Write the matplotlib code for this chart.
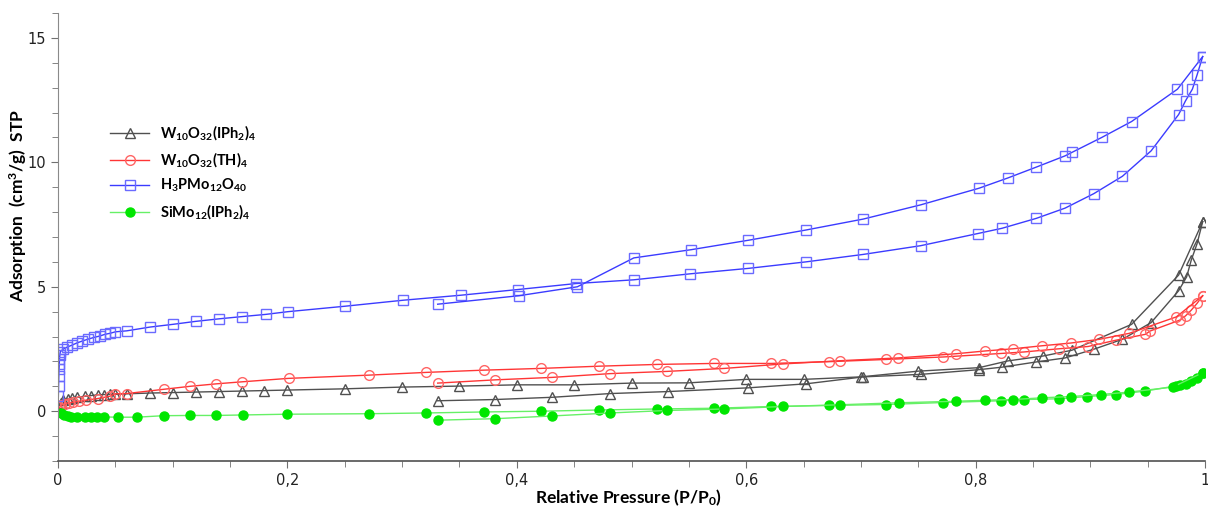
import matplotlib
matplotlib.use("Agg")
import matplotlib.pyplot as plt
from matplotlib.ticker import MultipleLocator, FuncFormatter

# ---------------- data ----------------
labels = [r"W$_{10}$O$_{32}$(IPh$_{2}$)$_{4}$",
          r"W$_{10}$O$_{32}$(TH)$_{4}$",
          r"H$_{3}$PMo$_{12}$O$_{40}$",
          r"SiMo$_{12}$(IPh$_{2}$)$_{4}$"]

# W10O32(IPh2)4
w_ipH_p_ads = [0.001, 0.0025, 0.0046, 0.0084, 0.0125, 0.017, 0.0235, 0.029, 0.035, 0.040, 0.045, 0.050,
               0.060, 0.080, 0.100, 0.120, 0.140, 0.160, 0.180, 0.200, 0.250, 0.300, 0.350, 0.400, 0.450,
               0.500, 0.550, 0.600, 0.650, 0.700, 0.750, 0.803, 0.828, 0.859, 0.884, 0.936, 0.977, 0.998]
w_ipH_v_ads = [0.15, 0.33, 0.44, 0.50, 0.54, 0.56, 0.60, 0.63, 0.66, 0.67, 0.68, 0.68,
               0.70, 0.73, 0.75, 0.77, 0.79, 0.81, 0.83, 0.85, 0.90, 0.97, 1.01, 1.06, 1.06,
               1.13, 1.14, 1.28, 1.28, 1.38, 1.61, 1.75, 2.02, 2.22, 2.45, 3.49, 5.47, 7.62]
w_ipH_p_des = [0.998, 0.993, 0.988, 0.984, 0.977, 0.953, 0.928, 0.903, 0.878, 0.853, 0.823, 0.803,
               0.752, 0.702, 0.652, 0.602, 0.532, 0.4815, 0.431, 0.381, 0.331]
w_ipH_v_des = [7.62, 6.72, 6.07, 5.40, 4.84, 3.56, 2.89, 2.49, 2.14, 1.98, 1.77, 1.67,
               1.48, 1.38, 1.10, 0.94, 0.79, 0.71, 0.56, 0.47, 0.42]

# W10O32(TH)4
w_th_p_ads = [0.0005, 0.001, 0.003, 0.006, 0.0096, 0.013, 0.018, 0.024, 0.0346, 0.045, 0.050, 0.060,
              0.092, 0.115, 0.138, 0.160, 0.201, 0.271, 0.321, 0.371, 0.421, 0.472, 0.522, 0.572,
              0.622, 0.672, 0.722, 0.772, 0.822, 0.842, 0.873, 0.898, 0.922, 0.948, 0.952, 0.978,
              0.983, 0.988, 0.993, 0.998]
w_th_v_ads = [0.02, 0.16, 0.24, 0.31, 0.34, 0.36, 0.40, 0.44, 0.51, 0.60, 0.70, 0.71,
              0.88, 1.00, 1.10, 1.18, 1.32, 1.45, 1.56, 1.65, 1.72, 1.81, 1.88, 1.92,
              1.92, 1.99, 2.08, 2.18, 2.32, 2.38, 2.51, 2.60, 2.85, 3.09, 3.22, 3.66,
              3.83, 4.06, 4.33, 4.64]
w_th_p_des = [0.998, 0.975, 0.934, 0.908, 0.883, 0.858, 0.833, 0.808, 0.783, 0.732, 0.682, 0.632,
              0.581, 0.531, 0.481, 0.431, 0.381, 0.331]
w_th_v_des = [4.64, 3.79, 3.13, 2.89, 2.74, 2.63, 2.51, 2.42, 2.31, 2.14, 2.03, 1.90,
              1.72, 1.60, 1.51, 1.36, 1.26, 1.13]

# H3PMo12O40
hpmo_p_ads = [0.0003, 0.0005, 0.0007, 0.0009, 0.0011, 0.0013, 0.0016, 0.002, 0.0044, 0.0081, 0.0125,
              0.0163, 0.0212, 0.0265, 0.0317, 0.0363, 0.041, 0.0453, 0.050, 0.060, 0.080, 0.100,
              0.120, 0.140, 0.160, 0.181, 0.2005, 0.2505, 0.301, 0.351, 0.401, 0.4516, 0.502,
              0.551, 0.602, 0.652, 0.702, 0.752, 0.802, 0.823, 0.853, 0.878, 0.903, 0.928, 0.953,
              0.977, 0.983, 0.989, 0.993, 0.998]
hpmo_v_ads = [0.6, 1.0, 1.4, 1.7, 1.9, 2.1, 2.25, 2.39, 2.49, 2.58, 2.66,
              2.74, 2.82, 2.90, 2.97, 3.02, 3.09, 3.13, 3.19, 3.23, 3.38, 3.49,
              3.61, 3.71, 3.80, 3.89, 4.00, 4.22, 4.46, 4.66, 4.89, 5.13, 5.28,
              5.52, 5.74, 6.00, 6.30, 6.65, 7.14, 7.35, 7.75, 8.16, 8.74, 9.44, 10.46,
              11.92, 12.47, 12.94, 13.50, 14.25]
hpmo_p_des = [0.998, 0.976, 0.936, 0.910, 0.884, 0.878, 0.853, 0.828, 0.803, 0.752, 0.702, 0.652,
              0.602, 0.552, 0.502, 0.4528, 0.4017, 0.331]
hpmo_v_des = [14.25, 12.94, 11.64, 11.00, 10.40, 10.26, 9.81, 9.37, 8.96, 8.29, 7.72, 7.28,
              6.87, 6.49, 6.16, 5.00, 4.64, 4.30]

# SiMo12(IPh2)4
simo_p_ads = [0.003, 0.0055, 0.0084, 0.011, 0.017, 0.0235, 0.029, 0.034, 0.040, 0.052, 0.0686, 0.092,
              0.115, 0.138, 0.161, 0.200, 0.271, 0.321, 0.371, 0.421, 0.472, 0.522, 0.572, 0.622,
              0.672, 0.722, 0.772, 0.822, 0.842, 0.873, 0.897, 0.922, 0.948, 0.975, 0.978, 0.983,
              0.988, 0.993, 0.998]
simo_v_ads = [-0.08, -0.15, -0.20, -0.24, -0.23, -0.23, -0.23, -0.23, -0.23, -0.24, -0.24, -0.18,
              -0.17, -0.17, -0.15, -0.12, -0.10, -0.07, -0.03, 0.00, 0.05, 0.09, 0.12, 0.19,
              0.23, 0.27, 0.35, 0.42, 0.47, 0.50, 0.59, 0.67, 0.81, 1.02, 1.05, 1.10,
              1.21, 1.32, 1.55]
simo_p_des = [0.998, 0.972, 0.934, 0.909, 0.883, 0.858, 0.833, 0.808, 0.783, 0.733, 0.682, 0.632,
              0.581, 0.531, 0.4815, 0.431, 0.381, 0.331]
simo_v_des = [1.55, 0.97, 0.77, 0.67, 0.59, 0.54, 0.47, 0.44, 0.40, 0.34, 0.26, 0.19,
              0.09, 0.03, -0.07, -0.19, -0.30, -0.36]

x_ticks = [0, 0.2, 0.4, 0.6, 0.8, 1.0]
y_ticks = [0, 5, 10, 15]

# ---------------- style ----------------
plt.rcParams['font.family'] = ['Lato', 'DejaVu Sans']
plt.rcParams['mathtext.fontset'] = 'custom'
plt.rcParams['mathtext.rm'] = 'Lato:bold'
plt.rcParams['mathtext.bf'] = 'Lato:bold'
plt.rcParams['mathtext.it'] = 'Lato:bold'
plt.rcParams['mathtext.default'] = 'rm'

fig = plt.figure(figsize=(12.08, 5.09), dpi=100)
ax = fig.add_axes([58 / 1208, 48 / 509, (1205 - 58) / 1208, (461 - 13) / 509])

series = [
    (w_ipH_p_ads, w_ipH_v_ads, w_ipH_p_des, w_ipH_v_des,
     dict(color='#505050', marker='^', mfc='none', mec='#505050', ms=6.5, mew=1.0)),
    (w_th_p_ads, w_th_v_ads, w_th_p_des, w_th_v_des,
     dict(color='#ff3535', marker='o', mfc='none', mec='#ff6464', ms=7, mew=1.0)),
    (hpmo_p_ads, hpmo_v_ads, hpmo_p_des, hpmo_v_des,
     dict(color='#3b3bff', marker='s', mfc='none', mec='#6a6aff', ms=6.5, mew=1.0)),
    (simo_p_ads, simo_v_ads, simo_p_des, simo_v_des,
     dict(color='#66f066', marker='o', mfc='#00e600', mec='#00e600', ms=6.5, mew=1.0)),
]

handles = []
for (pa, va, pd, vd, st), lab in zip(series, labels):
    h, = ax.plot(pa, va, lw=1.0, label=lab, **st)
    ax.plot(pd, vd, lw=1.0, **st)
    handles.append(h)

ax.set_xlim(0, 1)
ax.set_ylim(-2, 16)
for s in ['top', 'right']:
    ax.spines[s].set_visible(False)
ax.spines['left'].set_color('#8a8a8a')
ax.spines['bottom'].set_color('#505050')
ax.spines['bottom'].set_linewidth(1.2)

ax.set_xticks(x_ticks)
ax.set_yticks(y_ticks)
ax.xaxis.set_minor_locator(MultipleLocator(0.05))
ax.yaxis.set_minor_locator(MultipleLocator(1))
fmt = FuncFormatter(lambda v, p: ('%g' % v).replace('.', ','))
ax.xaxis.set_major_formatter(fmt)
ax.tick_params(axis='both', which='both', direction='out', colors='#707070', labelcolor='#222222')
ax.tick_params(axis='both', which='major', length=5, labelsize=10.5)
ax.tick_params(axis='both', which='minor', length=4)
for t in ax.get_xticklabels() + ax.get_yticklabels():
    t.set_family(['Liberation Sans Narrow', 'DejaVu Sans'])

ax.set_xlabel(r"Relative Pressure (P/P$_{0}$)", fontsize=12.5, fontweight='bold')
ax.set_ylabel(r"Adsorption  (cm$^{3}$/g)  STP", fontsize=12.5, fontweight='bold')
ax.xaxis.set_label_coords(0.497, -0.083)
ax.xaxis.label.set_va('center')
ax.yaxis.set_label_coords(-0.035, 0.57)
ax.yaxis.label.set_va('center')

leg = ax.legend(handles=handles, loc='upper left', bbox_to_anchor=(0.034, 0.783),
                frameon=False, handlelength=2.7, handletextpad=0.75, labelspacing=0.55,
                prop={'family': 'Lato', 'weight': 'bold', 'size': 10.5})

fig.savefig('out.png', dpi=100)
